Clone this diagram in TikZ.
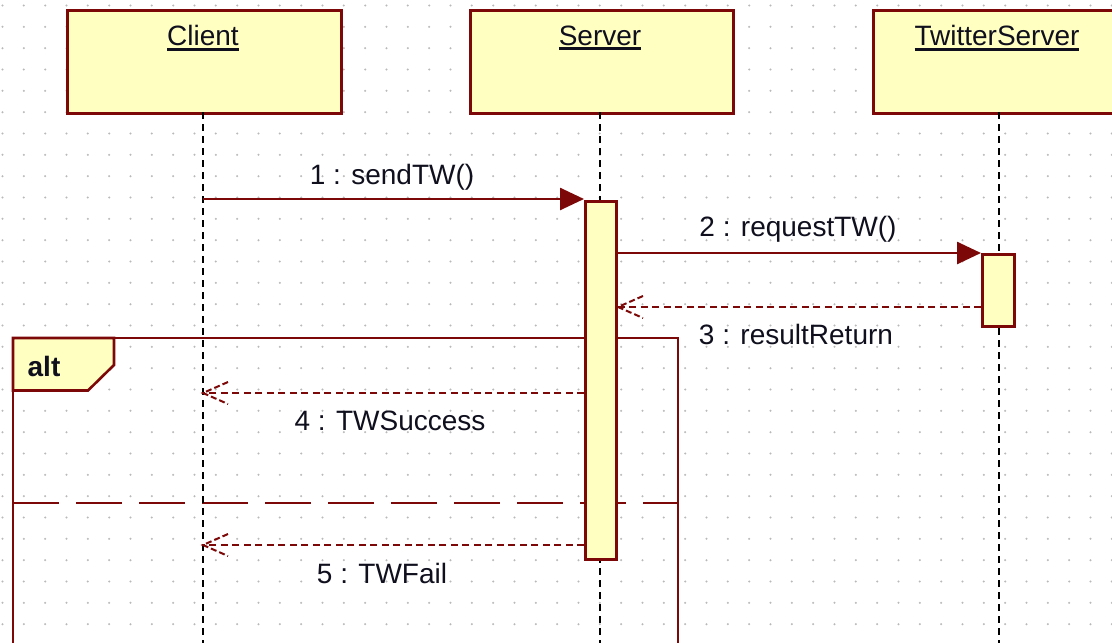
\documentclass[tikz,border=0pt]{standalone}
\usepackage{fontspec}
\setmainfont{Liberation Sans}
\usetikzlibrary{arrows.meta}
\definecolor{umlred}{RGB}{125,8,8}
\definecolor{umlfill}{RGB}{255,255,194}
\definecolor{dotgray}{RGB}{185,185,185}
\definecolor{txt}{RGB}{15,15,30}
\newcommand\myul[1]{\setbox0\hbox{#1}\rlap{\rule[-5pt]{\wd0}{2.8pt}}\box0}
\begin{document}
\begin{tikzpicture}[x=1pt,y=-1pt,
  lbl/.style={font=\fontsize{28}{32}\selectfont, text=txt, inner sep=0pt},
  headbox/.style={draw=umlred, line width=3pt, fill=umlfill, inner sep=0pt, minimum height=103pt, anchor=north west},
  actbox/.style={draw=umlred, line width=3pt, fill=umlfill, inner sep=0pt, anchor=north west},
  lifeline/.style={draw=black, line width=2.4pt, dash pattern=on 7pt off 5pt},
  msg/.style={draw=umlred, line width=2.6pt, -{Triangle[length=24pt,width=22pt]}},
  ret/.style={draw=umlred, line width=2.4pt, dash pattern=on 7pt off 4.5pt},
  barb/.style={draw=umlred, line width=2pt, dash pattern=on 6pt off 3pt},
  frameline/.style={draw=umlred, line width=2.6pt},
]
\clip (0,0) rectangle (1112,643);
\fill[white] (0,0) rectangle (1112,643);
% dot grid
\foreach \i in {0,...,52}{
  \foreach \j in {0,...,30}{
    \fill[dotgray] (2.5+21.333*\i, 5.5+21.333*\j) circle (1.1pt);
  }
}
% alt frame
\draw[frameline] (13,700) -- (13,338) -- (678,338) -- (678,700);
\draw[frameline, dash pattern=on 46pt off 17pt] (13,503) -- (678,503);
\draw[frameline, fill=umlfill] (13,338) -- (114,338) -- (114,365) -- (88,390.5) -- (13,390.5) -- cycle;
\node[font=\bfseries\fontsize{28}{32}\selectfont, text=txt, inner sep=0pt] (altlbl) at (44,366) {alt};
% header boxes
\node[headbox, minimum width=274pt] (client) at (66,9) {};
\node[headbox, minimum width=263pt] (server) at (469,9) {};
\node[headbox, minimum width=270pt] (twitter) at (872,9) {};
% lifeline ends
\coordinate (clientend) at (203,650);
\coordinate (serverend) at (600,650);
\coordinate (twitterend) at (999,650);
\coordinate (clienttop) at (203,112);
\coordinate (servertop) at (600,112);
\coordinate (twittertop) at (999,112);
\draw[lifeline] (clienttop) -- (clientend);
\draw[lifeline] (servertop) -- (serverend);
\draw[lifeline] (twittertop) -- (twitterend);
% activation boxes
\node[actbox, minimum width=31pt, minimum height=358pt] (sact) at (584,200) {};
\node[actbox, minimum width=32pt, minimum height=72pt] (tact) at (981,253) {};
% messages
\coordinate (m1s) at (203,199);
\draw[msg] (m1s) -- (m1s -| sact.west);
\coordinate (m2s) at (sact.east |- 0,253);
\draw[msg] (m2s) -- (tact.north west);
\coordinate (m3e) at (sact.east |- 0,307);
\draw[ret] (tact.west |- m3e) -- (m3e);
\draw[barb] (m3e) ++(25,-11) -- (m3e) -- ++(25,11);
\coordinate (m4e) at (203,393);
\draw[ret] (sact.west |- m4e) -- (m4e);
\draw[barb] (m4e) ++(25,-11) -- (m4e) -- ++(25,11);
\coordinate (m5e) at (203,545);
\draw[ret] (sact.west |- m5e) -- (m5e);
\draw[barb] (m5e) ++(25,-11) -- (m5e) -- ++(25,11);
% labels
\node[lbl] (clientlbl) at (203,38) {\myul{Client}};
\node[lbl] (serverlbl) at (600,38) {\myul{Server}};
\node[lbl] (twitterlbl) at (997,38) {\myul{TwitterServer}};
\node[lbl] (l1) at (392,177) {1 : sendTW()};
\node[lbl] (l2) at (798,229) {2 : requestTW()};
\node[lbl] (l3) at (796,334) {3 : resultReturn};
\node[lbl] (l4) at (390,421) {4 : TWSuccess};
\node[lbl] (l5) at (382,573) {5 : TWFail};
\end{tikzpicture}
\end{document}
